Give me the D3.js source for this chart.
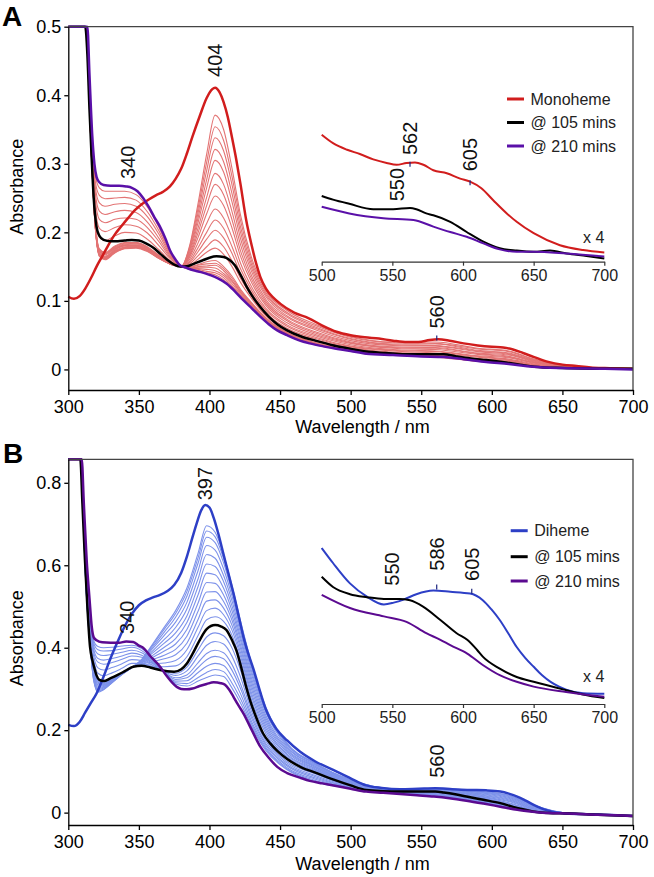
<!DOCTYPE html>
<html><head><meta charset="utf-8">
<script src="https://cdn.jsdelivr.net/npm/d3@7"></script>
<style>body{margin:0;background:#fff}svg{display:block}</style>
</head><body><svg id="chart" width="654" height="877"></svg>
<script>
// ---------------- DATA ----------------
const xTicks = [300,350,400,450,500,550,600,650,700];
const yTicksA = [0,0.1,0.2,0.3,0.4,0.5];
const yTicksB = [0,0.2,0.4,0.6,0.8];
const insetTicks = [500,550,600,650,700];

// Panel A: Monoheme (red), @105 mins (black), @210 mins (purple)
const redA_wl = [300,304,308,312,316,320,324,328,333,338,342,347,352,357,362,367,372,376,380,384,388,393,398,402,404,407,410,413,416,419,422,426,430,433,436,440,445,450,460,470,480,490,500,510,520,530,540,548,556,562,570,580,590,600,608,615,622,630,640,650,660,670,680,700];
const redA = [0.106,0.103,0.107,0.118,0.133,0.150,0.165,0.180,0.197,0.210,0.220,0.232,0.241,0.248,0.254,0.259,0.267,0.278,0.293,0.315,0.340,0.369,0.396,0.409,0.411,0.405,0.390,0.368,0.338,0.306,0.270,0.218,0.180,0.155,0.135,0.118,0.105,0.096,0.083,0.075,0.064,0.055,0.050,0.047,0.045,0.042,0.040,0.040,0.043,0.044,0.042,0.038,0.035,0.033,0.032,0.029,0.024,0.018,0.011,0.007,0.005,0.003,0.002,0.001];
const blackA_wl = [300,312,313.5,315,316.6,318,320,322,325,330,335,340,345,350,355,360,365,370,375,380,385,390,395,400,405,410,414,418,422,426,430,436,442,448,455,465,475,488,500,511,525,542,555,566,575,585,596,610,620,630,650,675,700];
const blackA = [0.5,0.5,0.46,0.38,0.306,0.25,0.208,0.195,0.189,0.187,0.187,0.188,0.189,0.188,0.184,0.178,0.169,0.160,0.153,0.150,0.151,0.155,0.159,0.163,0.165,0.164,0.160,0.152,0.138,0.122,0.108,0.091,0.077,0.066,0.057,0.048,0.042,0.035,0.030,0.026,0.024,0.022,0.022,0.022,0.019,0.016,0.0136,0.010,0.007,0.004,0.002,0.001,0.001];
const purpleA_wl = [300,313.5,315,317,318.5,320,322,325,330,336,341,345,349,353,357,361,365,369,372,376,379,384,388,394,400,406,412,418,424,430,436,442,448,455,464,471,480,488,500,511,530,550,566,580,596,612,629,650,680,700];
const purpleA = [0.5,0.5,0.43,0.34,0.30,0.281,0.273,0.269,0.268,0.268,0.267,0.265,0.26,0.25,0.237,0.222,0.208,0.19,0.174,0.160,0.152,0.148,0.145,0.142,0.138,0.133,0.1255,0.114,0.101,0.089,0.077,0.066,0.057,0.050,0.042,0.038,0.034,0.031,0.027,0.023,0.021,0.019,0.018,0.015,0.011,0.008,0.004,0.002,0.001,0.0];

// Panel A intermediate spectra (thin lines), in milli-absorbance, on a shared wavelength grid
const gridA = [300,313,316,319,322,326,333,340,348,356,364,372,380,386,392,398,404,410,416,422,430,440,455,475,500,530,560,590,612,630,650,675,700];
const thinA = [
 [500,500,330,210,165,160,170,176,177,172,162,154,150,181,243,314,371,350,293,225,162,115,86,66,48,40,40,31,27,15,7,2,0],
 [500,500,330,211,166,161,171,177,178,173,162,154,150,179,236,302,354,334,281,217,157,112,83,64,47,39,38,30,26,14,7,2,0],
 [500,500,331,211,167,162,171,177,178,173,163,154,150,176,229,290,338,319,269,208,152,109,81,62,45,37,37,28,24,13,6,2,0],
 [500,500,331,212,167,162,172,178,179,173,163,154,150,174,222,277,321,303,256,200,147,106,78,60,44,36,35,27,23,13,6,2,0],
 [500,500,331,212,168,163,172,178,179,174,163,154,150,171,215,265,305,288,244,191,142,102,76,58,42,35,34,26,22,12,6,2,0],
 [500,500,331,212,168,163,173,179,180,174,163,155,150,168,207,251,286,270,230,182,136,99,73,55,40,33,32,24,21,11,5,2,0],
 [500,500,332,213,169,164,174,180,180,175,164,155,150,166,200,239,270,255,218,173,131,96,71,53,39,32,31,23,19,10,5,2,0],
 [500,500,332,214,170,165,175,181,181,176,164,155,150,164,193,227,253,239,206,165,126,93,68,51,38,31,29,22,18,10,5,2,0],
 [500,500,333,215,172,167,176,181,182,176,165,155,150,161,185,213,234,221,192,155,120,89,65,49,36,29,27,20,17,9,4,1,0],
 [500,500,333,216,173,168,177,182,183,177,165,155,150,158,178,200,218,206,179,147,115,86,63,47,34,28,26,19,15,8,4,1,0],
 [500,500,334,216,174,169,178,183,184,178,166,156,150,156,172,190,203,192,169,140,111,83,60,45,33,27,24,18,14,7,3,1,0],
 [500,500,334,217,175,170,179,184,185,178,166,156,150,154,166,179,189,179,158,133,107,80,58,43,32,25,23,16,13,7,3,1,0],
 [500,500,334,218,176,171,180,185,185,179,167,156,150,152,161,171,177,168,150,127,103,78,56,41,31,24,22,15,12,6,3,1,0],
 [500,500,342,231,193,188,195,200,199,190,175,159,150,150,153,157,159,150,136,117,97,75,54,39,29,23,20,14,11,5,3,1,0],
 [500,500,347,240,206,201,207,211,209,199,181,162,150,149,152,154,155,147,133,115,96,74,53,39,29,23,20,14,11,5,2,1,0],
 [500,500,352,250,219,214,219,221,219,207,187,164,150,148,150,151,152,144,130,113,95,73,53,38,28,22,20,13,10,5,2,1,0],
 [500,500,357,259,231,226,230,232,229,215,192,166,151,148,149,149,148,140,128,112,94,72,52,38,28,22,19,13,10,5,2,1,0],
 [500,500,362,268,243,238,241,242,238,223,198,168,151,147,147,146,144,137,125,110,93,72,51,37,28,22,19,13,10,4,2,1,0],
 [500,500,367,276,254,249,250,251,247,230,203,170,151,147,146,143,141,134,122,108,92,71,51,37,28,21,19,12,9,4,2,1,0],
 [500,500,371,284,265,260,260,260,255,237,208,172,151,146,144,141,138,131,120,106,91,71,50,36,27,21,18,12,9,4,2,1,0]
];

// Panel A inset (x 4 expansion, 500-700 nm)
const insetA_red_wl = [500,508,518,527,536.5,546,553,560,566,572,579,588.5,598,605,613,621.4,631,638,650,668.6,685,700];
const insetA_red = [0.212,0.198,0.187,0.180,0.171,0.165,0.162,0.165,0.166,0.162,0.153,0.148,0.139,0.134,0.123,0.103,0.081,0.067,0.048,0.028,0.020,0.016];
const insetA_black_wl = [500,508,519.5,536.5,550.6,562.5,567,574,579,591,602.6,614.4,626,638,650,661.6,673.4,687.5,700];
const insetA_black = [0.110,0.104,0.097,0.088,0.088,0.090,0.088,0.081,0.078,0.067,0.050,0.034,0.023,0.019,0.017,0.019,0.014,0.010,0.006];
const insetA_purple_wl = [500,519.5,543.6,565,579,591,602.6,614.4,626,638,650,673.4,700];
const insetA_purple = [0.092,0.081,0.073,0.070,0.059,0.050,0.042,0.031,0.021,0.017,0.017,0.014,0.009];

// Panel B: Diheme (blue), @105 mins (black), @210 mins (purple)
const blueB_wl = [300,304,308,312,316,320,325,330,335,340,345,350,355,360,365,370,375,380,384,388,391,394,397,400,403,406,410,414,417,421,424,428,431,436,440,447,455,464,475,488,500,511,522,535,548,560,572,584,596,606,612,618,624,630,636,642,653,670,685,700];
const blueB = [0.213,0.210,0.220,0.243,0.266,0.289,0.330,0.375,0.415,0.452,0.482,0.503,0.515,0.522,0.528,0.537,0.552,0.582,0.621,0.668,0.702,0.732,0.746,0.740,0.715,0.680,0.626,0.572,0.532,0.472,0.427,0.380,0.350,0.292,0.250,0.205,0.175,0.148,0.124,0.103,0.083,0.066,0.060,0.057,0.058,0.059,0.057,0.055,0.054,0.051,0.046,0.039,0.029,0.018,0.009,0.003,-0.002,-0.004,-0.006,-0.008];
const blackB_wl = [300,308.5,310,311.8,313.5,315.4,317,318.5,320,322,325,330,335,340,346,352,358,365,370,375,380,384,388,393,398,404,408,412,416,419,423,426,429,433,438,443,448,455,465,475,488,500,511,523,535,548,560,566,575,582,594,606,615,622,629,640,655,675,700];
const blackB = [0.857,0.857,0.75,0.613,0.50,0.402,0.37,0.35,0.333,0.322,0.319,0.326,0.334,0.343,0.354,0.356,0.352,0.346,0.343,0.342,0.348,0.362,0.385,0.418,0.445,0.455,0.452,0.443,0.418,0.394,0.345,0.305,0.270,0.232,0.192,0.168,0.150,0.130,0.110,0.097,0.080,0.066,0.055,0.052,0.051,0.051,0.051,0.049,0.044,0.039,0.031,0.023,0.014,0.008,0.003,-0.001,-0.002,-0.005,-0.008];
const purpleB_wl = [300,309.5,311,313,315,316.6,318,320,324,330,336,341,346,350,353,358,365,370,376.8,380,384,388,393,398,403,408,411,414,417,420,424,430,436,442,448,455,464,471,480,488,500,511,523,535,547,559,570,582,594,606,618,629,640,653,675,700];
const purpleB = [0.857,0.857,0.75,0.613,0.52,0.451,0.425,0.418,0.413,0.412,0.412,0.415,0.414,0.405,0.400,0.38,0.354,0.33,0.305,0.300,0.299,0.301,0.307,0.312,0.316,0.314,0.310,0.298,0.281,0.263,0.241,0.200,0.160,0.133,0.111,0.096,0.085,0.077,0.071,0.066,0.058,0.051,0.048,0.045,0.042,0.039,0.035,0.029,0.022,0.0145,0.007,0.0024,-0.001,-0.002,-0.005,-0.008];

// Panel B intermediate spectra (thin lines), milli-absorbance
const gridB = [300,309,312,315,318,321,325,331,338,345,352,360,368,376,384,392,398,404,410,416,422,430,440,455,475,500,530,560,590,612,630,650,675,700];
const thinB = [
 [857,857,600,430,320,292,298,315,335,352,372,410,450,490,545,630,696,680,625,550,465,360,255,168,120,80,58,58,52,42,18,0,-4,-8],
 [857,857,599,430,322,294,299,316,335,352,371,407,445,483,536,619,683,669,616,543,460,355,252,166,119,79,58,58,51,41,17,0,-4,-8],
 [857,857,598,429,324,296,300,316,336,352,370,403,438,474,525,606,668,655,606,535,453,349,247,164,118,78,57,57,50,39,16,0,-4,-8],
 [857,857,596,428,328,298,302,317,336,352,369,399,430,462,510,588,648,637,591,525,445,341,242,160,116,77,57,57,49,37,15,0,-4,-8],
 [857,857,594,427,331,301,304,318,336,352,367,393,420,449,494,568,626,617,575,513,436,333,235,157,114,76,56,56,47,35,14,-1,-4,-8],
 [857,857,593,426,335,304,306,319,337,352,366,388,411,436,477,549,603,597,560,501,426,324,229,153,112,75,56,55,46,33,12,-1,-4,-8],
 [857,857,591,425,338,307,308,321,337,352,364,382,401,422,461,529,581,577,544,489,417,315,223,150,110,74,55,55,44,31,11,-1,-4,-8],
 [857,857,589,425,342,310,310,322,338,353,363,377,392,409,444,509,558,556,528,477,407,306,217,146,108,72,55,54,43,29,9,-1,-5,-8],
 [857,857,587,424,346,313,311,323,338,353,361,372,382,396,428,489,535,536,512,466,398,297,210,142,106,71,54,54,41,27,8,-1,-5,-8],
 [857,857,585,423,349,316,313,324,339,353,360,366,373,383,411,469,513,516,496,454,388,288,204,139,104,70,54,53,40,24,6,-1,-5,-8],
 [857,857,584,422,353,319,315,325,339,353,358,361,363,369,395,450,490,496,480,442,379,280,198,135,102,69,53,52,38,22,5,-2,-5,-8],
 [857,857,582,421,356,322,317,326,340,353,357,355,354,356,378,430,468,475,464,430,369,271,191,132,100,67,53,52,37,20,3,-2,-5,-8],
 [857,857,595,434,369,338,332,339,350,362,362,353,343,338,353,395,426,436,429,399,345,253,179,124,94,65,51,49,33,17,2,-2,-5,-8],
 [857,857,612,449,379,351,346,352,361,371,369,357,342,333,344,380,406,415,409,379,329,244,173,120,90,64,51,48,32,16,2,-2,-5,-8],
 [857,857,628,464,389,365,360,364,372,380,377,361,341,327,334,364,386,394,388,359,312,235,167,116,87,62,50,46,30,15,2,-2,-5,-8],
 [857,857,640,475,396,374,370,374,380,387,382,364,341,323,327,352,371,379,373,345,301,228,163,113,84,62,49,44,29,14,2,-2,-5,-8],
 [857,857,654,487,404,385,381,384,389,394,388,367,340,319,320,340,355,362,357,329,288,220,158,109,81,61,49,43,28,13,2,-2,-5,-8],
 [857,857,666,498,411,395,392,393,397,401,393,369,339,315,313,328,340,347,342,314,276,214,154,106,78,60,48,42,26,13,2,-2,-5,-8],
 [857,857,676,507,417,403,400,401,404,406,398,372,339,312,307,319,328,334,330,302,266,208,150,104,75,59,48,41,25,12,2,-2,-5,-8]
];

// Panel B inset (x 4 expansion)
const insetB_blue_wl = [500,508,520,532,544,551,558,567,579,591,605,614,620,626,632,638,644,650,656,662,668,673,685,700];
const insetB_blue = [0.260,0.235,0.201,0.179,0.166,0.169,0.174,0.183,0.189,0.187,0.184,0.173,0.158,0.140,0.118,0.095,0.077,0.062,0.048,0.037,0.029,0.024,0.018,0.017];
const insetB_black_wl = [500,508,520,532,544,555,562.5,572,584,595.5,603,610,614,626,638,650,673,685,700];
const insetB_black = [0.212,0.195,0.183,0.178,0.175,0.175,0.173,0.162,0.140,0.118,0.107,0.090,0.079,0.059,0.045,0.037,0.023,0.016,0.010];
const insetB_purple_wl = [500,520,544,560,574,584,591,603,614,626,638,650,673,700];
const insetB_purple = [0.182,0.160,0.146,0.137,0.118,0.107,0.098,0.084,0.065,0.048,0.037,0.029,0.020,0.012];

const legendA = ["Monoheme","@ 105 mins","@ 210 mins"];
const legendB = ["Diheme","@ 105 mins","@ 210 mins"];

// ---------------- DRAWING ----------------
const FONT = '"Liberation Sans", Arial, Helvetica, sans-serif';
const C = {red:"#d11d1d", thinRed:"#e37474", black:"#000000", purpleA:"#5a10a8",
           blue:"#2d3fc6", thinBlue:"#7d92ea", purpleB:"#5b0a90", frame:"#444"};
const svg = d3.select("#chart").style("font-family", FONT);

const lineGen = (x, y) => d3.line().x(d => x(d[0])).y(d => y(d[1])).curve(d3.curveMonotoneX);
const pairs = (wl, v, k=1) => wl.map((w,i) => [w, v[i]*k]);

function drawPanel(o){
  const g = svg.append("g");
  const [x0,x1] = o.x.range(), [yb,yt] = o.y.range();
  const lg = lineGen(o.x, o.y);
  o.thin.forEach(arr => g.append("path").attr("d", lg(pairs(o.grid, arr, 0.001)))
      .attr("fill","none").attr("stroke", o.thinColor).attr("stroke-width",1.1));
  o.main.forEach(s => g.append("path").attr("d", lg(pairs(s.wl, s.v)))
      .attr("fill","none").attr("stroke", s.c).attr("stroke-width",2.5).attr("stroke-linejoin","round"));
  g.append("path").attr("d",`M${x0},${yt}H${x1}V${yb}`).attr("fill","none").attr("stroke",C.frame).attr("stroke-width",1.3);
  const ax = g.append("g").attr("transform",`translate(0,${yb})`)
    .call(d3.axisBottom(o.x).tickValues(xTicks).tickSize(5).tickPadding(5).tickSizeOuter(0).tickFormat(d3.format("d")));
  const ay = g.append("g").attr("transform",`translate(${x0},0)`)
    .call(d3.axisLeft(o.y).tickValues(o.yTicks).tickSize(4).tickPadding(3).tickSizeOuter(0)
      .tickFormat(d => d === 0 ? "0" : d3.format(".1f")(d)));
  [ax, ay].forEach(a => {
    a.selectAll("path,line").attr("stroke","#000").attr("stroke-width",1.3);
    a.selectAll("text").attr("font-size",18).attr("font-family",FONT).attr("fill","#000");
  });
  g.append("text").attr("x",362.5).attr("y",o.xTitleY).attr("text-anchor","middle")
    .attr("font-size",18).text("Wavelength / nm");
  g.append("text").attr("transform",`translate(23,${o.yTitleY}) rotate(-90)`).attr("text-anchor","middle")
    .attr("font-size",18).text("Absorbance");
  g.append("text").attr("x",o.letterX).attr("y",o.letterY).attr("font-size",28).attr("font-weight","bold").text(o.letter);

  const li = lineGen(o.xi, o.yi);
  o.inset.forEach(s => g.append("path").attr("d", li(pairs(s.wl, s.v)))
      .attr("fill","none").attr("stroke", s.c).attr("stroke-width",2));
  const ai = g.append("g").attr("transform",`translate(0,${o.insetAxisY})`)
    .call(d3.axisBottom(o.xi).tickValues(insetTicks).tickSize(4).tickPadding(4).tickSizeOuter(0).tickFormat(d3.format("d")));
  ai.selectAll("path,line").attr("stroke","#333").attr("stroke-width",1.2);
  ai.selectAll("text").attr("font-size",16).attr("font-family",FONT).attr("fill","#222");
  g.append("text").attr("x",583).attr("y",o.x4Y).attr("font-size",16).attr("fill","#222").text("x 4");

  o.legend.forEach((lab,i) => {
    const yy = o.legY[i];
    g.append("line").attr("x1",o.legX).attr("x2",o.legX+17).attr("y1",yy).attr("y2",yy)
      .attr("stroke",o.main[i].c).attr("stroke-width",3);
    g.append("text").attr("x",o.legX+23.5).attr("y",yy).attr("dy","0.35em").attr("font-size",16).attr("fill","#222").text(lab);
  });

  o.notes.forEach(n => {
    const sx = n.inset ? o.xi : o.x, sy = n.inset ? o.yi : o.y;
    g.append("text").attr("transform",`translate(${sx(n.w)},${sy(n.a)}) rotate(-90)`)
      .attr("text-anchor","middle").attr("dy","0.35em").attr("font-size",20).attr("fill","#111").text(n.t);
  });
  o.marks.forEach(m => {
    const sx = m.inset ? o.xi : o.x, sy = m.inset ? o.yi : o.y;
    g.append("line").attr("x1",sx(m.w)).attr("x2",sx(m.w)).attr("y1",sy(m.a)-2.5).attr("y2",sy(m.a)+2.5)
      .attr("stroke","#1a237e").attr("stroke-width",1.2);
  });
}

const xA = d3.scaleLinear().domain([300,700]).range([68.3,633]);
const yA = d3.scaleLinear().domain([-0.03,0.5]).range([390,26.7]);
const xiA = d3.scaleLinear().domain([500,700]).range([321.7,604.3]);
const yiA = d3.scaleLinear().domain([0,0.25]).range([262,112]);

drawPanel({
  x:xA, y:yA, yTicks:yTicksA, grid:gridA, thin:thinA, thinColor:C.thinRed,
  main:[{wl:redA_wl,v:redA,c:C.red},{wl:blackA_wl,v:blackA,c:C.black},{wl:purpleA_wl,v:purpleA,c:C.purpleA}],
  xTitleY:433, yTitleY:186.7, letter:"A", letterX:2, letterY:26,
  xi:xiA, yi:yiA, insetAxisY:261.7, x4Y:243,
  inset:[{wl:insetA_red_wl,v:insetA_red,c:C.red},{wl:insetA_black_wl,v:insetA_black,c:C.black},{wl:insetA_purple_wl,v:insetA_purple,c:C.purpleA}],
  legend:legendA, legX:507, legY:[99,122.5,146],
  notes:[{t:"404",w:403.9,a:0.451},{t:"340",w:342.5,a:0.302},{t:"560",w:561,a:0.084},
         {t:"562",w:562.5,a:0.206,inset:true},{t:"605",w:604.9,a:0.179,inset:true},{t:"550",w:553,a:0.129,inset:true}],
  marks:[{w:561,a:0.046},{w:562.5,a:0.163,inset:true},{w:605,a:0.132,inset:true}]
});

const xB = d3.scaleLinear().domain([300,700]).range([68.3,633]);
const yB = d3.scaleLinear().domain([-0.03,0.857]).range([825,459.3]);
const xiB = d3.scaleLinear().domain([500,700]).range([321.7,604.3]);
const yiB = d3.scaleLinear().domain([0,0.25]).range([704,554]);

drawPanel({
  x:xB, y:yB, yTicks:yTicksB, grid:gridB, thin:thinB, thinColor:C.thinBlue,
  main:[{wl:blueB_wl,v:blueB,c:C.blue},{wl:blackB_wl,v:blackB,c:C.black},{wl:purpleB_wl,v:purpleB,c:C.purpleB}],
  xTitleY:870, yTitleY:638.3, letter:"B", letterX:3, letterY:463,
  xi:xiB, yi:yiB, insetAxisY:704, x4Y:682,
  inset:[{wl:insetB_blue_wl,v:insetB_blue,c:C.blue},{wl:insetB_black_wl,v:insetB_black,c:C.black},{wl:insetB_purple_wl,v:insetB_purple,c:C.purpleB}],
  legend:legendB, legX:510.7, legY:[530.7,556.7,581],
  notes:[{t:"397",w:396.8,a:0.798},{t:"340",w:341.4,a:0.474},{t:"560",w:561,a:0.125},
         {t:"550",w:549.4,a:0.225,inset:true},{t:"586",w:581.4,a:0.25,inset:true},{t:"605",w:606.2,a:0.233,inset:true}],
  marks:[{w:581.4,a:0.195,inset:true},{w:606.2,a:0.188,inset:true}]
});
</script></body></html>
